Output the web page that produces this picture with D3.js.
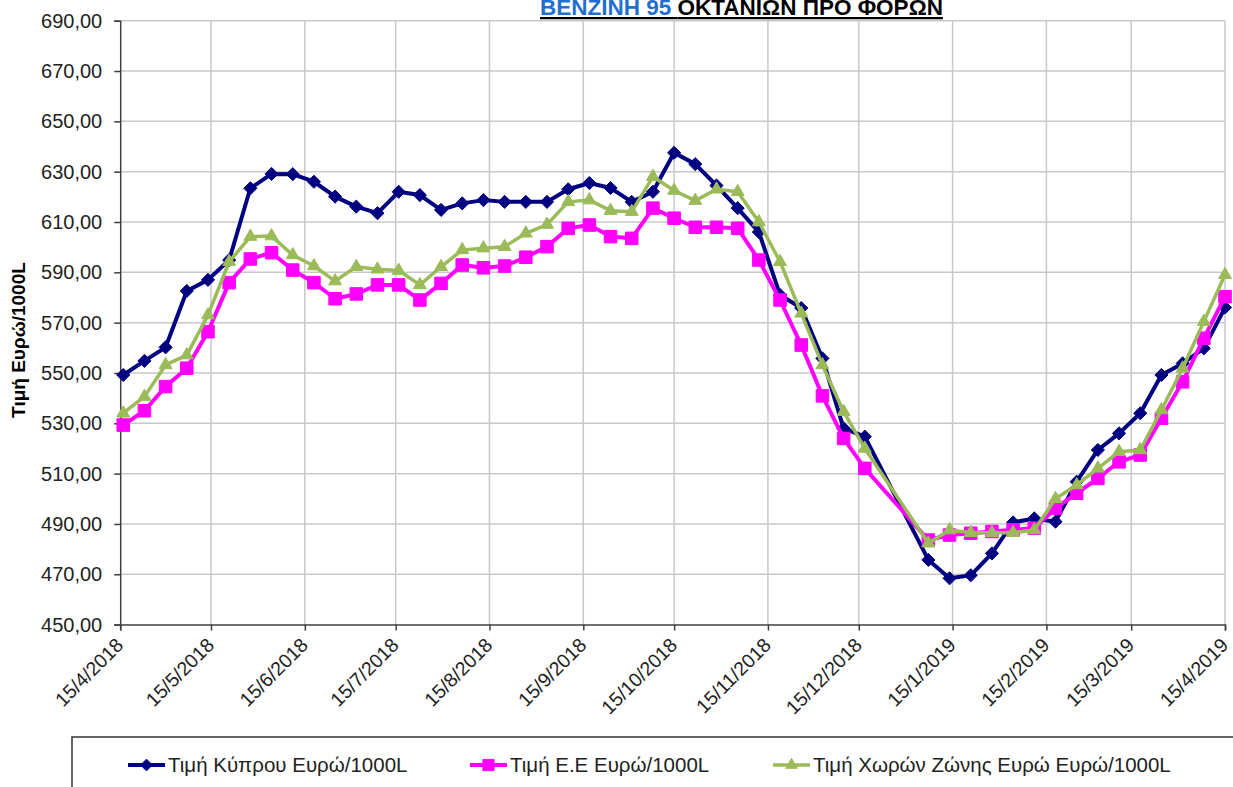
<!DOCTYPE html>
<html>
<head>
<meta charset="utf-8">
<script src="https://cdn.jsdelivr.net/npm/d3@7"></script>
<style>
  html, body { margin: 0; padding: 0; background: #fff; }
  svg { display: block; }
</style>
</head>
<body>
<svg id="chart" width="1233" height="787"></svg>
<script>
// ---- DATA ----
const dates = [
  "16/4/2018","23/4/2018","30/4/2018","7/5/2018","14/5/2018","21/5/2018","28/5/2018",
  "4/6/2018","11/6/2018","18/6/2018","25/6/2018","2/7/2018","9/7/2018","16/7/2018",
  "23/7/2018","30/7/2018","6/8/2018","13/8/2018","20/8/2018","27/8/2018","3/9/2018",
  "10/9/2018","17/9/2018","24/9/2018","1/10/2018","8/10/2018","15/10/2018","22/10/2018",
  "29/10/2018","5/11/2018","12/11/2018","19/11/2018","26/11/2018","3/12/2018","10/12/2018",
  "17/12/2018","7/1/2019","14/1/2019","21/1/2019","28/1/2019","4/2/2019","11/2/2019",
  "18/2/2019","25/2/2019","4/3/2019","11/3/2019","18/3/2019","25/3/2019","1/4/2019",
  "8/4/2019","15/4/2019"
];
const cyprus = [
  549.2,554.8,560.2,582.6,587.0,594.9,623.4,629.1,629.0,626.0,620.1,616.1,613.5,622.0,
  620.7,614.8,617.4,618.7,618.0,618.0,618.0,623.0,625.5,623.5,618.0,622.0,637.5,633.0,
  624.5,615.5,606.0,581.0,575.8,555.8,528.0,524.7,475.7,468.4,469.6,478.3,490.6,492.2,
  490.9,506.8,519.4,526.0,534.0,549.2,553.8,559.8,576.0
];
const eu = [
  529.3,535.0,544.6,551.9,566.4,585.9,595.3,597.8,590.9,585.9,579.5,581.4,585.0,585.0,
  579.0,585.6,592.9,591.8,592.5,596.0,600.2,607.5,608.8,604.2,603.5,615.5,611.5,607.9,
  607.9,607.5,594.9,579.0,561.1,540.9,524.0,512.1,483.6,485.6,486.3,487.0,487.7,488.3,
  496.2,502.2,508.1,514.7,517.4,532.0,546.5,563.8,580.3
];
const euroZone = [
  534.0,540.6,553.2,557.1,573.0,594.2,604.2,604.4,596.9,592.5,586.5,592.2,591.2,590.7,
  585.0,592.2,598.9,599.6,600.2,605.5,609.0,618.0,618.7,614.5,614.1,628.0,622.5,618.5,
  623.0,622.0,610.0,594.2,573.7,553.2,534.6,520.0,482.3,487.6,486.5,486.5,486.5,487.6,
  500.0,505.5,512.1,518.7,519.4,535.3,551.9,570.4,589.0
];
const xTickLabels = ["15/4/2018","15/5/2018","15/6/2018","15/7/2018","15/8/2018","15/9/2018",
  "15/10/2018","15/11/2018","15/12/2018","15/1/2019","15/2/2019","15/3/2019","15/4/2019"];
const yTicks = [450,470,490,510,530,550,570,590,610,630,650,670,690];
const seriesNames = ["Τιμή Κύπρου Ευρώ/1000L","Τιμή Ε.Ε Ευρώ/1000L","Τιμή Χωρών Ζώνης Ευρώ Ευρώ/1000L"];
const titleBlue = "ΒΕΝΖΙΝΗ 95";
const titleBlack = "ΟΚΤΑΝΙΩΝ ΠΡΟ ΦΟΡΩΝ";
const yTitle = "Τιμή Ευρώ/1000L";

// ---- SETUP ----
const parse = d3.timeParse("%d/%m/%Y");
const fmtY = v => d3.format(".2f")(v).replace(".", ",");
const svg = d3.select("#chart");
const FONT = "Liberation Sans, Arial, sans-serif";

const L = 120.2, R = 1225, T = 20.7, B = 624.6;
const x = d3.scaleTime().domain([parse("15/4/2018"), parse("15/4/2019")]).range([L, R]);
const y = d3.scaleLinear().domain([450, 690]).range([B, T]);
const tickDates = xTickLabels.map(parse);

// gridlines
const grid = svg.append("g");
grid.selectAll("line.h").data(yTicks.slice(1)).join("line")
  .attr("x1", L).attr("x2", R).attr("y1", d => y(d)).attr("y2", d => y(d))
  .attr("stroke", "#c8c8c8").attr("stroke-width", 1.5);
grid.selectAll("line.v").data(tickDates.slice(1)).join("line")
  .attr("x1", d => x(d)).attr("x2", d => x(d)).attr("y1", T).attr("y2", B)
  .attr("stroke", "#c8c8c8").attr("stroke-width", 1.5);

// axes
const yAxis = svg.append("g").attr("transform", `translate(${L},0)`)
  .call(d3.axisLeft(y).tickValues(yTicks).tickFormat(fmtY).tickSize(6).tickPadding(12));
yAxis.select(".domain").attr("stroke", "#404040").attr("stroke-width", 1.5);
yAxis.selectAll(".tick line").attr("stroke", "#404040").attr("stroke-width", 1.5);
yAxis.selectAll("text").attr("font-family", FONT).attr("font-size", 20).attr("fill", "#222");

const xAxis = svg.append("g").attr("transform", `translate(0,${B})`)
  .call(d3.axisBottom(x).tickValues(tickDates).tickFormat((d, i) => xTickLabels[i]).tickSize(6));
xAxis.select(".domain").attr("stroke", "#404040").attr("stroke-width", 1.5);
xAxis.selectAll(".tick line").attr("stroke", "#404040").attr("stroke-width", 1.5);
xAxis.selectAll("text")
  .attr("font-family", FONT).attr("font-size", 19.5).attr("fill", "#222")
  .attr("text-anchor", "end")
  .attr("transform", "translate(-1,17) rotate(-45)")
  .attr("x", 0).attr("y", 0).attr("dy", "0.35em");

// y title
svg.append("text")
  .attr("transform", `translate(25,340) rotate(-90)`)
  .attr("text-anchor", "middle")
  .attr("font-family", FONT).attr("font-size", 19).attr("font-weight", "bold")
  .attr("fill", "#000").text(yTitle);

// title
const tt = svg.append("text").attr("x", 540).attr("y", 15)
  .attr("font-family", FONT).attr("font-size", 22.5).attr("font-weight", "bold")
  .attr("text-decoration", "underline");
tt.append("tspan").attr("fill", "#1f6fd0").text(titleBlue + " ");
tt.append("tspan").attr("fill", "#000").text(titleBlack);

// series
const series = [
  { name: seriesNames[0], values: cyprus, color: "#000080", width: 4, symbol: d3.symbolDiamond2, size: 110 },
  { name: seriesNames[1], values: eu, color: "#ff00ff", width: 4, symbol: d3.symbolSquare2, size: 200 },
  { name: seriesNames[2], values: euroZone, color: "#9bbb59", width: 3.5, symbol: d3.symbolTriangle2, size: 120 }
];
const line = d3.line().x(d => x(d.date)).y(d => y(d.v));

series.forEach(s => {
  const pts = dates.map((d, i) => ({ date: parse(d), v: s.values[i] }));
  const g = svg.append("g");
  g.append("path").datum(pts).attr("d", line)
    .attr("fill", "none").attr("stroke", s.color).attr("stroke-width", s.width)
    .attr("stroke-linejoin", "round");
  g.selectAll("path.m").data(pts).join("path")
    .attr("transform", d => `translate(${x(d.date)},${y(d.v)})`)
    .attr("d", d3.symbol().type(s.symbol).size(s.size))
    .attr("fill", s.color).attr("stroke", s.color).attr("stroke-width", 1);
});

// legend
const lg = svg.append("g");
lg.append("rect").attr("x", 72).attr("y", 737).attr("width", 1200).attr("height", 80)
  .attr("fill", "#fff").attr("stroke", "#333").attr("stroke-width", 1.5);
const legendX = [128, 470, 773];
series.forEach((s, i) => {
  const gx = legendX[i], gy = 765;
  lg.append("line").attr("x1", gx).attr("x2", gx + 37).attr("y1", gy).attr("y2", gy)
    .attr("stroke", s.color).attr("stroke-width", s.width);
  lg.append("path").attr("transform", `translate(${gx + 18.5},${gy})`)
    .attr("d", d3.symbol().type(s.symbol).size(s.size * 0.8))
    .attr("fill", s.color).attr("stroke", s.color);
  lg.append("text").attr("x", gx + 40).attr("y", gy + 7)
    .attr("font-family", FONT).attr("font-size", 20.5).attr("fill", "#222").text(s.name);
});
</script>
</body>
</html>
